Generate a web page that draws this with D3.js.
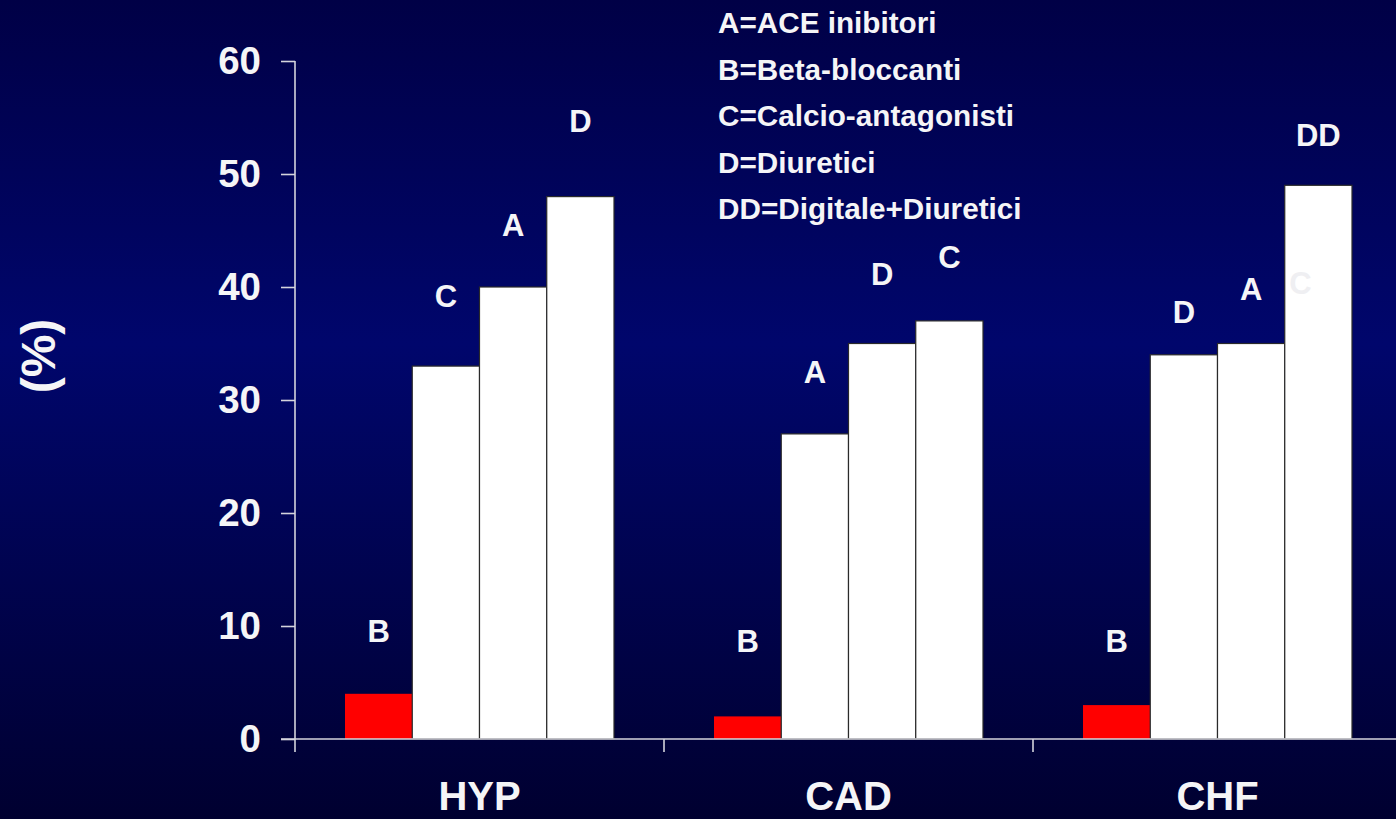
<!DOCTYPE html>
<html>
<head>
<meta charset="utf-8">
<script src="https://cdn.jsdelivr.net/npm/d3@7"></script>
<style>
  html, body { margin: 0; padding: 0; overflow: hidden; background: #000040; }
  svg { display: block; }
  text { font-family: "Liberation Sans", Arial, sans-serif; font-weight: bold; fill: #f5f5f7; }
</style>
</head>
<body>
<svg id="chart" width="1396" height="819"></svg>
<script>
// Patient groups along the x axis
const categories = ["HYP", "CAD", "CHF"];

// Drug class shown in each bar, per group (left to right)
const hypDrugs = ["B", "C", "A", "D"];
const cadDrugs = ["B", "A", "D", "C"];
const chfDrugs = ["B", "D", "A", "DD"];

// Percentages per bar
const hypValues = [4, 33, 40, 48];
const cadValues = [2, 27, 35, 37];
const chfValues = [3, 34, 35, 49];

// Height (in %) at which each bar's letter sits
const hypLabelLevels = [9.6, 39.2, 45.5, 54.7];
const cadLabelLevels = [8.7, 32.5, 41.2, 42.7];
const chfLabelLevels = [8.7, 37.8, 39.8, 53.5];

// A faded letter left over on the tallest CHF bar
const fadedLetters = ["C"];
const fadedLevels = [40.4];

// Y axis ticks
const yTicks = [0, 10, 20, 30, 40, 50, 60];

// Legend lines
const legendLines = [
  "A=ACE inibitori",
  "B=Beta-bloccanti",
  "C=Calcio-antagonisti",
  "D=Diuretici",
  "DD=Digitale+Diuretici"
];

const groups = [
  { cat: categories[0], drugs: hypDrugs, values: hypValues, levels: hypLabelLevels },
  { cat: categories[1], drugs: cadDrugs, values: cadValues, levels: cadLabelLevels },
  { cat: categories[2], drugs: chfDrugs, values: chfValues, levels: chfLabelLevels }
];

const W = 1396, H = 819;
const svg = d3.select("#chart");

// Background: vertical navy gradient, brightest a little above the middle
const defs = svg.append("defs");
const grad = defs.append("linearGradient").attr("id", "bg")
  .attr("x1", 0).attr("y1", 0).attr("x2", 0).attr("y2", 1);
grad.append("stop").attr("offset", "0%").attr("stop-color", "#000046");
grad.append("stop").attr("offset", "42%").attr("stop-color", "#00066c");
grad.append("stop").attr("offset", "100%").attr("stop-color", "#000030");
svg.append("rect").attr("width", W).attr("height", H).attr("fill", "url(#bg)");

const axisLeftX = 295;
const band = 369;
const y = d3.scaleLinear().domain([0, 60]).range([739, 61]);
const x0 = d3.scaleBand().domain(categories)
  .range([axisLeftX, axisLeftX + band * categories.length]).padding(0);
const x1 = d3.scaleBand().domain(d3.range(4))
  .range([50, 50 + 67.25 * 4]).padding(0);

const axisColor = "#d4d4dc";

// Bars
const barLayer = svg.append("g");
groups.forEach(g => {
  const gg = barLayer.append("g").attr("transform", `translate(${x0(g.cat)},0)`);
  gg.selectAll("rect")
    .data(g.values.map((v, i) => ({ v, i, d: g.drugs[i] })))
    .join("rect")
    .attr("x", d => x1(d.i))
    .attr("y", d => y(d.v))
    .attr("width", x1.bandwidth())
    .attr("height", d => y(0) - y(d.v))
    .attr("fill", d => d.d === "B" ? "#ff0000" : "#ffffff")
    .attr("stroke", d => d.d === "B" ? "none" : "#2a2a2a")
    .attr("stroke-width", 1.2);

  gg.selectAll("text.lbl")
    .data(g.drugs.map((d, i) => ({ d, i, lv: g.levels[i] })))
    .join("text")
    .attr("class", "lbl")
    .attr("x", d => x1(d.i) + x1.bandwidth() / 2)
    .attr("y", d => y(d.lv))
    .attr("dy", "0.36em")
    .attr("text-anchor", "middle")
    .style("font-size", "31px")
    .text(d => d.d);
});

// Faded letter on the last CHF bar
svg.append("g").attr("transform", `translate(${x0("CHF")},0)`)
  .selectAll("text")
  .data(fadedLetters.map((t, i) => ({ t, lv: fadedLevels[i] })))
  .join("text")
  .attr("x", x1(3) + x1.bandwidth() / 2 - 18)
  .attr("y", d => y(d.lv))
  .attr("dy", "0.36em")
  .attr("text-anchor", "middle")
  .style("font-size", "31px")
  .style("fill", "#efeff2")
  .text(d => d.t);

// Y axis
const yAxis = d3.axisLeft(y).tickValues(yTicks).tickSize(14).tickPadding(20)
  .tickFormat(d3.format("d"));
const yg = svg.append("g").attr("transform", `translate(${axisLeftX},0)`).call(yAxis);
yg.select(".domain").remove();
yg.selectAll(".tick line").attr("stroke", axisColor).attr("stroke-width", 1.6);
yg.selectAll(".tick text")
  .style("font-size", "38.5px")
  .style("font-family", "'Liberation Sans', Arial, sans-serif")
  .style("font-weight", "bold")
  .attr("fill", "#f5f5f7");
// vertical axis line, running a little below zero
svg.append("line")
  .attr("x1", axisLeftX).attr("x2", axisLeftX)
  .attr("y1", y(60)).attr("y2", y(0) + 13)
  .attr("stroke", axisColor).attr("stroke-width", 1.6);

// X axis baseline
svg.append("line")
  .attr("x1", axisLeftX - 14).attr("x2", W)
  .attr("y1", y(0)).attr("y2", y(0))
  .attr("stroke", axisColor).attr("stroke-width", 1.6);

// Category separators
const bounds = categories.map(c => x0(c)).concat([x0(categories[2]) + x0.bandwidth()]);
svg.append("g").selectAll("line")
  .data(bounds.slice(1))
  .join("line")
  .attr("x1", d => d).attr("x2", d => d)
  .attr("y1", y(0)).attr("y2", y(0) + 13)
  .attr("stroke", axisColor).attr("stroke-width", 1.6);

// Category labels
svg.append("g").selectAll("text")
  .data(categories)
  .join("text")
  .attr("x", d => x0(d) + x0.bandwidth() / 2)
  .attr("y", 810)
  .attr("text-anchor", "middle")
  .style("font-size", "40px")
  .text(d => d);

// Y axis title
svg.append("text")
  .attr("transform", "translate(55,356) rotate(-90)")
  .attr("text-anchor", "middle")
  .style("font-size", "48px")
  .text("(%)");

// Legend
svg.append("g").selectAll("text")
  .data(legendLines)
  .join("text")
  .attr("x", 718)
  .attr("y", (d, i) => 33 + i * 46.6)
  .style("font-size", "29.7px")
  .text(d => d);
</script>
</body>
</html>
